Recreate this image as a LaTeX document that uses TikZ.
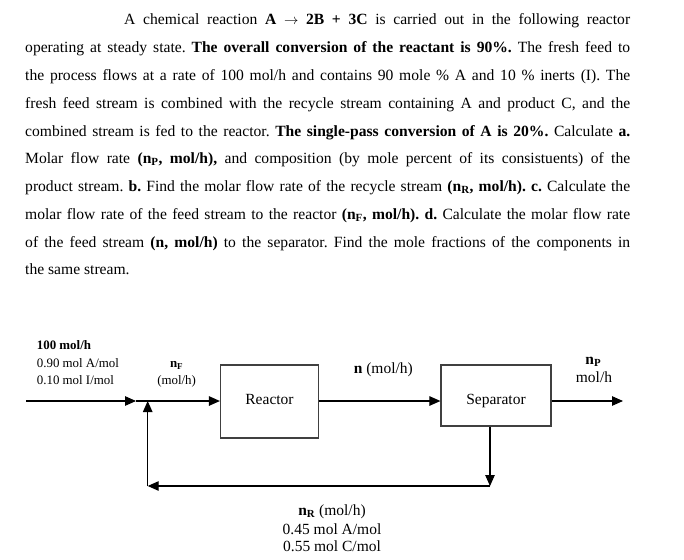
\documentclass[tikz,border=0pt]{standalone}
\usepackage{fontspec}
\setmainfont{Liberation Serif}
\usetikzlibrary{arrows.meta}
\frenchspacing
\tikzset{
  body/.style={inner sep=0pt, anchor=base west, font=\fontsize{15.6}{18}\selectfont},
  lbl/.style={inner sep=0pt, anchor=base, font=\fontsize{15.5}{18}\selectfont},
  small/.style={inner sep=0pt, font=\fontsize{12.9}{15}\selectfont},
  unit/.style={draw=black!75, line width=1.2pt, inner sep=0pt, font=\fontsize{15.5}{18}\selectfont},
  flow/.style={line width=1.1pt, -{Triangle[length=11pt,width=9.5pt]}}
}
\begin{document}
\begin{tikzpicture}[x=1pt,y=-1pt]
\useasboundingbox (0,0) rectangle (684,559);
% problem statement
\node[body] (t1) at (124,25) {\makebox[506pt][s]{A chemical reaction \textbf{A $\rightarrow$ 2B + 3C} is carried out in the following reactor}};
\node[body] (t2) at (25,52.75) {\makebox[605pt][s]{operating at steady state. \textbf{The overall conversion of the reactant is 90\%.} The fresh feed to}};
\node[body] (t3) at (25,80.5) {\makebox[605pt][s]{the process flows at a rate of 100 mol/h and contains 90 mole \% A and 10 \% inerts (I). The}};
\node[body] (t4) at (25,108.25) {\makebox[605pt][s]{fresh feed stream is combined with the recycle stream containing A and product C, and the}};
\node[body] (t5) at (25,136) {\makebox[605pt][s]{combined stream is fed to the reactor. \textbf{The single-pass conversion of A is 20\%.} Calculate \textbf{a.}}};
\node[body] (t6) at (25,163.75) {\makebox[605pt][s]{Molar flow rate \textbf{(n\textsubscript{P}, mol/h),} and composition (by mole percent of its consistuents) of the}};
\node[body] (t7) at (25,191.5) {\makebox[605pt][s]{product stream. \textbf{b.} Find the molar flow rate of the recycle stream \textbf{(n\textsubscript{R}, mol/h). c.} Calculate the}};
\node[body] (t8) at (25,219.25) {\makebox[605pt][s]{molar flow rate of the feed stream to the reactor \textbf{(n\textsubscript{F}, mol/h). d.} Calculate the molar flow rate}};
\node[body] (t9) at (25,247) {\makebox[605pt][s]{of the feed stream \textbf{(n, mol/h)} to the separator. Find the mole fractions of the components in}};
\node[body] (t10) at (25,274.75) {the same stream.};
% units
\node[unit, minimum width=98pt, minimum height=73pt, text height=10.5pt, text depth=5.5pt] (reactor) at (269.5,401.5) {Reactor};
\node[unit, minimum width=110pt, minimum height=61pt, text height=17pt, text depth=0pt] (separator) at (496,395.5) {Separator};
% streams
\coordinate (feedin) at (26,401);
\coordinate (tip1) at (136,401);
\coordinate (mix) at (147.7,401);
\coordinate (pout) at (623,401);
\coordinate (rdown) at (490,486);
\coordinate (rleft) at (147.7,486);
\draw[flow] (feedin) -- (tip1);
\draw[flow] (tip1) -- (reactor.west |- tip1);
\draw[flow] (reactor.east |- tip1) -- (separator.west |- tip1);
\draw[flow] (separator.east |- tip1) -- (pout);
\draw[flow] (separator.south -| rdown) -- (rdown);
\draw[flow] (rdown) -- (rleft);
\draw[flow] (rleft) -- (mix);
% labels
\node[small, anchor=base west] (feedrate) at (36.7,349.7) {\textbf{100 mol/h}};
\node[small, anchor=base west] (feedA) at (36.7,367.7) {0.90 mol A/mol};
\node[small, anchor=base west] (feedI) at (36.7,384.3) {0.10 mol I/mol};
\node[small, anchor=base] (nF) at (176.6,367.7) {\textbf{n\textsubscript{F}}};
\node[small, anchor=base] (nFu) at (176.6,384.2) {(mol/h)};
\node[lbl] (nlab) at (383.3,373.3) {\textbf{n} (mol/h)};
\node[lbl] (nP) at (593.3,364) {\textbf{n\textsubscript{P}}};
\node[lbl] (nPu) at (594,382.7) {mol/h};
\node[lbl] (nR) at (332,515) {\textbf{n\textsubscript{R}} (mol/h)};
\node[lbl] (rA) at (332,534) {0.45 mol A/mol};
\node[lbl] (rC) at (332,551.7) {0.55 mol C/mol};
\end{tikzpicture}
\end{document}
